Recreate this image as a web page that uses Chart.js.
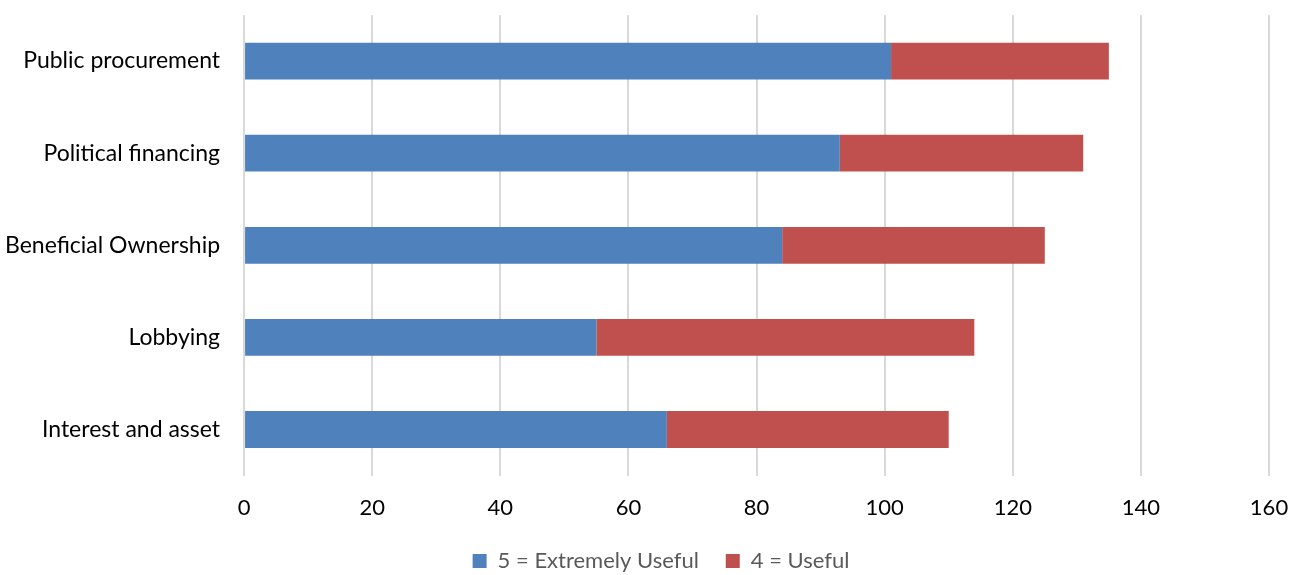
<!DOCTYPE html>
<html>
<head>
<meta charset="utf-8">
<script src="https://cdn.jsdelivr.net/npm/chart.js@4/dist/chart.umd.min.js"></script>
<style>
  html, body { margin: 0; padding: 0; background: #fff; }
  #wrap { width: 1301px; height: 575px; }
</style>
</head>
<body>
<div id="wrap"><canvas id="myChart"></canvas></div>
<script>
const categorias = ["Public procurement", "Political financing", "Beneficial Ownership", "Lobbying", "Interest and asset"];
const extremamenteUtil = [101, 93, 84, 55, 66];
const util = [34, 38, 41, 59, 44];
const legendas = ["5 = Extremely Useful", "4 = Useful"];
const cores = ["#4F81BD", "#C0504D"];

Chart.defaults.font.family = "Lato, 'Noto Sans', sans-serif";

// a legenda fica centrada na largura toda, não só na área do gráfico
const moverLegenda = {
    id: "moverLegenda",
    afterLayout(chart) {
        chart.legend.left += 32;
        chart.legend.right += 32;
    }
};

new Chart("myChart", {
    type: "bar",
    data: {
        labels: categorias,
        datasets: [
            { label: legendas[0], data: extremamenteUtil, backgroundColor: cores[0] },
            { label: legendas[1], data: util, backgroundColor: cores[1] }
        ]
    },
    options: {
        indexAxis: "y",
        responsive: true,
        maintainAspectRatio: false,
        animation: false,
        layout: { padding: { top: 15, right: 32, bottom: -7, left: -11 } },
        datasets: { bar: { categoryPercentage: 0.8, barPercentage: 0.5 } },
        scales: {
            x: {
                stacked: true,
                min: 0,
                max: 160,
                afterFit: (s) => { s.paddingLeft = 0; s.paddingRight = 0; },
                ticks: { stepSize: 20, color: "#000", font: { size: 22 }, padding: 19 },
                grid: { color: "#d9d9d9", lineWidth: 2, drawTicks: true, tickLength: 0 },
                border: { display: false }
            },
            y: {
                stacked: true,
                afterFit: (s) => { s.paddingTop = 0; s.paddingBottom = 0; },
                ticks: { color: "#000", font: { size: 23 }, padding: 16 },
                grid: { display: false },
                border: { display: false }
            }
        },
        plugins: {
            legend: {
                position: "bottom",
                labels: {
                    color: "#595959",
                    font: { size: 22 },
                    boxWidth: 14,
                    boxHeight: 14,
                    padding: 10,
                    generateLabels: (chart) => {
                        const itens = Chart.defaults.plugins.legend.labels.generateLabels(chart);
                        // espaço extra entre os itens da legenda
                        itens.forEach((item, i) => {
                            if (i < itens.length - 1) item.text = item.text + "   ";
                        });
                        return itens;
                    }
                }
            },
            tooltip: { enabled: false }
        }
    },
    plugins: [moverLegenda]
});
</script>
</body>
</html>
